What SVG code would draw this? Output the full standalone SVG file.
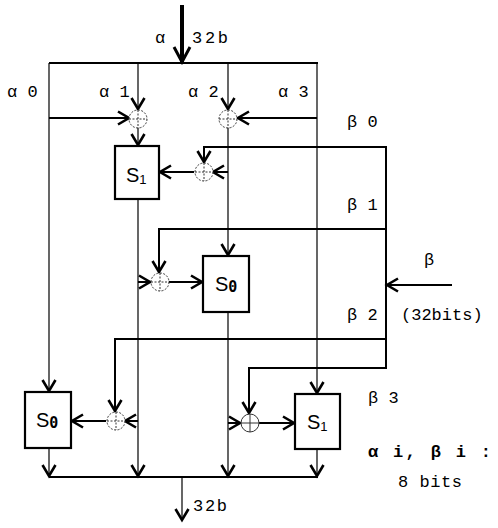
<svg xmlns="http://www.w3.org/2000/svg" width="498" height="528" viewBox="0 0 498 528">
<style>
.t{font-family:"Liberation Mono","DejaVu Sans Mono",monospace;font-size:17px;fill:#000}
.b{font-weight:bold}
.s{font-family:"Liberation Sans",Arial,sans-serif;font-size:20px;fill:#000}
.sub{font-size:13px}
.z{font-family:"DejaVu Sans Mono",monospace;font-weight:bold;font-size:15px}
.w1{stroke:#000;stroke-width:1.2;fill:none}
.w2{stroke:#000;stroke-width:2;fill:none}
.box{stroke:#000;stroke-width:2.2;fill:#fff}
.xc{stroke:#333;stroke-width:1;fill:#fff;stroke-dasharray:2 1.5}
.xp{stroke:#333;stroke-width:1;stroke-dasharray:2 1.5}
.a{marker-end:url(#ah)}
</style>
<defs>
<marker id="ah" markerUnits="userSpaceOnUse" markerWidth="16" markerHeight="16" refX="13" refY="8" orient="auto">
<path d="M2,1.5 L13,8 L2,14.5" fill="none" stroke="#000" stroke-width="2.6" stroke-linejoin="miter"/>
</marker>
<marker id="ahb" markerUnits="userSpaceOnUse" markerWidth="20" markerHeight="20" refX="17" refY="10" orient="auto">
<path d="M2,2 L17,10 L2,18" fill="none" stroke="#000" stroke-width="3" stroke-linejoin="miter"/>
</marker>
</defs>
<g id="connectors">
<line x1="182" y1="5" x2="182" y2="62" stroke="#000" stroke-width="4" marker-end="url(#ahb)"/>
<line class="w2" x1="49" y1="63" x2="318" y2="63"/>
<line class="w1 a" x1="49" y1="63" x2="49" y2="391"/>
<line class="w2 a" x1="49" y1="118" x2="129" y2="118"/>
<line class="w1 a" x1="138" y1="63" x2="138" y2="109"/>
<line class="w1 a" x1="138" y1="128" x2="138" y2="145"/>
<line class="w1 a" x1="228" y1="63" x2="228" y2="109"/>
<line class="w2 a" x1="317" y1="118" x2="238" y2="118"/>
<line class="w1 a" x1="228" y1="128" x2="228" y2="255"/>
<line class="w2 a" x1="228" y1="172" x2="213" y2="172"/>
<polyline class="w2 a" points="386,147 204,147 204,162"/>
<line class="w2 a" x1="194" y1="172" x2="160" y2="172"/>
<line class="w1 a" x1="138" y1="199" x2="138" y2="476"/>
<line class="w2 a" x1="138" y1="282" x2="150" y2="282"/>
<polyline class="w2 a" points="386,229 159,229 159,272"/>
<line class="w2 a" x1="169" y1="282" x2="202" y2="282"/>
<line class="w1 a" x1="228" y1="312" x2="228" y2="476"/>
<line class="w2 a" x1="228" y1="423" x2="240" y2="423"/>
<polyline class="w2 a" points="386,339 115,339 115,411"/>
<line class="w2 a" x1="138" y1="421" x2="125" y2="421"/>
<line class="w2 a" x1="106" y1="421" x2="72" y2="421"/>
<polyline class="w2 a" points="386,368 249,368 249,413"/>
<line class="w2 a" x1="259" y1="423" x2="294" y2="423"/>
<line class="w1 a" x1="317" y1="63" x2="317" y2="393"/>
<line class="w2" x1="386" y1="146" x2="386" y2="369"/>
<line class="w2 a" x1="452" y1="285" x2="387" y2="285"/>
<line class="w1 a" x1="49" y1="448" x2="49" y2="476"/>
<line class="w1 a" x1="317" y1="449" x2="317" y2="476"/>
<line class="w2" x1="49" y1="477" x2="318" y2="477"/>
<line class="w1 a" x1="182" y1="477" x2="182" y2="520"/>
</g>
<g id="xor-a1"><circle class="xc" cx="138" cy="119" r="9"/><line class="xp" x1="129" y1="119" x2="147" y2="119"/><line class="xp" x1="138" y1="110" x2="138" y2="128"/></g>
<g id="xor-a2"><circle class="xc" cx="228" cy="119" r="9"/><line class="xp" x1="219" y1="119" x2="237" y2="119"/><line class="xp" x1="228" y1="110" x2="228" y2="128"/></g>
<g id="xor-b0"><circle class="xc" cx="204" cy="172" r="9"/><line class="xp" x1="195" y1="172" x2="213" y2="172"/><line class="xp" x1="204" y1="163" x2="204" y2="181"/></g>
<g id="xor-b1"><circle class="xc" cx="160" cy="282" r="9"/><line class="xp" x1="151" y1="282" x2="169" y2="282"/><line class="xp" x1="160" y1="273" x2="160" y2="291"/></g>
<g id="xor-b2"><circle class="xc" cx="116" cy="421" r="9"/><line class="xp" x1="107" y1="421" x2="125" y2="421"/><line class="xp" x1="116" y1="412" x2="116" y2="430"/></g>
<g id="xor-b3"><circle class="xc" cx="250" cy="423" r="9" style="stroke-dasharray:none"/><line class="xp" x1="241" y1="423" x2="259" y2="423" style="stroke-dasharray:none"/><line class="xp" x1="250" y1="414" x2="250" y2="432" style="stroke-dasharray:none"/></g>
<g id="s1-top"><rect class="box" x="115" y="146" width="44" height="53"/><text class="s" x="126" y="182">S<tspan class="sub" dy="2">1</tspan></text></g>
<g id="s0-mid"><rect class="box" x="203" y="256" width="46" height="56"/><text class="s" x="215" y="291">S<tspan class="z" dy="1">0</tspan></text></g>
<g id="s0-left"><rect class="box" x="25" y="392" width="46" height="56"/><text class="s" x="36" y="427">S<tspan class="z" dy="1">0</tspan></text></g>
<g id="s1-right"><rect class="box" x="295" y="394" width="45" height="55"/><text class="s" x="307" y="429">S<tspan class="sub" dy="2">1</tspan></text></g>
<g id="labels">
<text class="t" x="155" y="43">α</text>
<text class="t" x="192" y="43" textLength="36">32b</text>
<text class="t" x="7" y="97">α 0</text>
<text class="t" x="99" y="97">α 1</text>
<text class="t" x="188" y="97">α 2</text>
<text class="t" x="278" y="97">α 3</text>
<text class="t" x="347" y="127">β 0</text>
<text class="t" x="347" y="210">β 1</text>
<text class="t" x="347" y="320">β 2</text>
<text class="t" x="368" y="403">β 3</text>
<text class="t" x="424" y="265">β</text>
<text class="t" x="401" y="320">(32bits)</text>
<text class="t b" x="368" y="457" textLength="123">α i, β i :</text>
<text class="t" x="398" y="487" textLength="64">8 bits</text>
<text class="t" x="193" y="511" textLength="34">32b</text>
</g>
</svg>
